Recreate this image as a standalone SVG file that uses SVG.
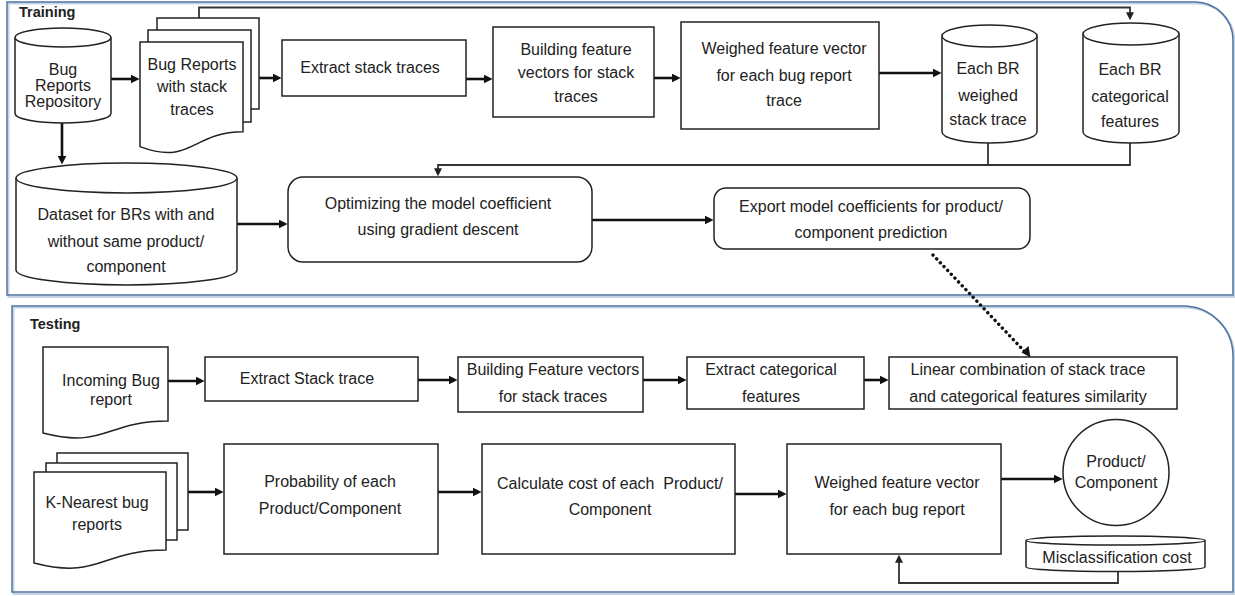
<svg xmlns="http://www.w3.org/2000/svg" width="1235" height="596" viewBox="0 0 1235 596">
<style>
text{font-family:"Liberation Sans",Arial,sans-serif;font-size:16px;fill:#222;text-anchor:middle}
.title{font-weight:bold;font-size:14.5px;text-anchor:start}
.panel{fill:none;stroke:#4d73a3;stroke-width:1.5}
.pshadow{fill:none;stroke:#c6d3e3;stroke-width:2}
.box{fill:#fff;stroke:#222;stroke-width:1.5}
.thick{fill:none;stroke:#111;stroke-width:2.6}
.thin{fill:none;stroke:#333;stroke-width:1.8}
.dots{fill:none;stroke:#111;stroke-width:3.4;stroke-linecap:round;stroke-dasharray:0.1 5.2}
</style>
<defs>
<marker id="arr" viewBox="0 0 10 10" markerWidth="9" markerHeight="9" refX="6" refY="5" orient="auto" markerUnits="userSpaceOnUse"><path d="M0,0 L10,5 L0,10 z" fill="#111"/></marker>
<marker id="arrs" viewBox="0 0 10 10" markerWidth="8" markerHeight="8" refX="6" refY="5" orient="auto" markerUnits="userSpaceOnUse"><path d="M0,0 L10,5 L0,10 z" fill="#222"/></marker>
</defs>
<rect width="1235" height="596" fill="#fff"/>

<g id="training-panel">
<path class="pshadow" d="M8.5,3.5 H1196 A38,38 0 0 1 1234.5,41.5 V297 H8.5 Z"/>
<path class="panel" d="M7,2 H1195 A38,38 0 0 1 1233,40 V295 H7 Z"/>
<text class="title" x="19" y="17">Training</text>
</g>

<g id="testing-panel">
<path class="pshadow" d="M13.5,307.5 H1184 A50,50 0 0 1 1234.5,358 V594 H13.5 Z"/>
<path class="panel" d="M12,306 H1183 A50,50 0 0 1 1233,356 V592 H12 Z"/>
<text class="title" x="30" y="329">Testing</text>
</g>

<g id="connectors">
<path class="thick" d="M111,79 H136" marker-end="url(#arr)"/>
<path class="thick" d="M259,78 H278" marker-end="url(#arr)"/>
<path class="thick" d="M466,79 H489" marker-end="url(#arr)"/>
<path class="thick" d="M654,78 H677" marker-end="url(#arr)"/>
<path class="thick" d="M879,73 H938" marker-end="url(#arr)"/>
<path class="thick" d="M62,123 V161" marker-end="url(#arr)"/>
<path class="thick" d="M237,224 H284" marker-end="url(#arr)"/>
<path class="thick" d="M592,220 H710" marker-end="url(#arr)"/>
<path class="thin" d="M199,18 V7.5 H1130 V17" marker-end="url(#arrs)"/>
<path class="thin" d="M988,143 V165"/>
<path class="thin" d="M1130,143 V165 H438 V173" marker-end="url(#arrs)"/>
<path class="dots" d="M933,255 L1027,354"/>
<path d="M1030.5,357.5 L1021.5,352.5 L1028.5,346 Z" fill="#111"/>
<path class="thick" d="M168,381 H201" marker-end="url(#arr)"/>
<path class="thick" d="M418,380 H454" marker-end="url(#arr)"/>
<path class="thick" d="M643,380 H683" marker-end="url(#arr)"/>
<path class="thick" d="M864,380 H885" marker-end="url(#arr)"/>
<path class="thick" d="M188,492 H220" marker-end="url(#arr)"/>
<path class="thick" d="M438,492 H478" marker-end="url(#arr)"/>
<path class="thick" d="M735,494 H783" marker-end="url(#arr)"/>
<path class="thick" d="M1001,479 H1059" marker-end="url(#arr)"/>
<path class="thin" d="M1118,572 V583 H899 V558" marker-end="url(#arrs)"/>
</g>

<g id="bug-reports-repository">
<path class="box" d="M15,37.5 V113.5 A48,9.5 0 0 0 111,113.5 V37.5"/>
<ellipse class="box" cx="63" cy="37.5" rx="48" ry="9.5"/>
<text x="63" y="75">Bug</text>
<text x="63" y="91">Reports</text>
<text x="63" y="107">Repository</text>
</g>

<g id="bug-reports-with-stack-traces">
<rect class="box" x="157" y="18" width="102" height="91"/>
<rect class="box" x="148" y="30" width="103" height="92"/>
<path class="box" d="M140,42 H243 V131.8 C191.5,131.8 191.5,166 140,146.6 Z"/>
<text x="192" y="70">Bug Reports</text>
<text x="192" y="92">with stack</text>
<text x="192" y="115">traces</text>
</g>

<g id="extract-stack-traces">
<rect class="box" x="282" y="40" width="184" height="56"/>
<text x="370" y="73">Extract stack traces</text>
</g>

<g id="building-feature-vectors">
<rect class="box" x="493" y="27" width="161" height="90"/>
<text x="576" y="55">Building feature</text>
<text x="576" y="78">vectors for stack</text>
<text x="576" y="102">traces</text>
</g>

<g id="weighed-feature-vector-training">
<rect class="box" x="681" y="22" width="198" height="107"/>
<text x="784" y="54">Weighed feature vector</text>
<text x="784" y="81">for each bug report</text>
<text x="784" y="106">trace</text>
</g>

<g id="each-br-weighed-stack-trace">
<path class="box" d="M942,36 V132 A47.5,11 0 0 0 1037,132 V36"/>
<ellipse class="box" cx="989.5" cy="36" rx="47.5" ry="11"/>
<text x="988" y="74">Each BR</text>
<text x="988" y="101">weighed</text>
<text x="988" y="125">stack trace</text>
</g>

<g id="each-br-categorical-features">
<path class="box" d="M1083,34 V132 A48,11 0 0 0 1179,132 V34"/>
<ellipse class="box" cx="1131" cy="34" rx="48" ry="11"/>
<text x="1130" y="75">Each BR</text>
<text x="1130" y="102">categorical</text>
<text x="1130" y="127">features</text>
</g>

<g id="dataset">
<path class="box" d="M16,178 V270 A110.5,15 0 0 0 237,270 V178"/>
<ellipse class="box" cx="126.5" cy="178" rx="110.5" ry="15"/>
<text x="126" y="220">Dataset for BRs with and</text>
<text x="126" y="247">without same product/</text>
<text x="126" y="272">component</text>
</g>

<g id="optimizing">
<rect class="box" x="288" y="177" width="304" height="85" rx="15"/>
<text x="438" y="209">Optimizing the model coefficient</text>
<text x="438" y="235">using gradient descent</text>
</g>

<g id="export-coefficients">
<rect class="box" x="714" y="188" width="316" height="61" rx="12"/>
<text x="871" y="212">Export model coefficients for product/</text>
<text x="871" y="238">component prediction</text>
</g>

<g id="incoming-bug-report">
<path class="box" d="M43,347 H168 V421 C105.5,421 105.5,449 43,433 Z"/>
<text x="111" y="386">Incoming Bug</text>
<text x="111" y="405">report</text>
</g>

<g id="extract-stack-trace-testing">
<rect class="box" x="205" y="357" width="213" height="44"/>
<text x="307" y="384">Extract Stack trace</text>
</g>

<g id="building-feature-vectors-testing">
<rect class="box" x="458" y="357" width="185" height="55"/>
<text x="553" y="375">Building Feature vectors</text>
<text x="553" y="402">for stack traces</text>
</g>

<g id="extract-categorical-features">
<rect class="box" x="687" y="357" width="177" height="52"/>
<text x="771" y="375">Extract categorical</text>
<text x="771" y="402">features</text>
</g>

<g id="linear-combination">
<rect class="box" x="889" y="357" width="288" height="52"/>
<text x="1028" y="375">Linear combination of stack trace</text>
<text x="1028" y="402">and categorical features similarity</text>
</g>

<g id="k-nearest-bug-reports">
<rect class="box" x="57" y="453" width="131" height="77"/>
<rect class="box" x="46" y="463" width="131" height="77"/>
<path class="box" d="M34,472 H166 V550 C100,550 100,580 34,563 Z"/>
<text x="97" y="508">K-Nearest bug</text>
<text x="97" y="530">reports</text>
</g>

<g id="probability">
<rect class="box" x="224" y="444" width="214" height="110"/>
<text x="330" y="487">Probability of each</text>
<text x="330" y="514">Product/Component</text>
</g>

<g id="calculate-cost">
<rect class="box" x="482" y="444" width="253" height="110"/>
<text x="610" y="489" style="white-space:pre">Calculate cost of each  Product/</text>
<text x="610" y="515">Component</text>
</g>

<g id="weighed-feature-vector-testing">
<rect class="box" x="787" y="444" width="214" height="110"/>
<text x="897" y="488">Weighed feature vector</text>
<text x="897" y="515">for each bug report</text>
</g>

<g id="product-component">
<circle class="box" cx="1116" cy="472.5" r="53"/>
<text x="1116" y="467">Product/</text>
<text x="1116" y="488">Component</text>
</g>

<g id="misclassification-cost">
<path class="box" d="M1026,540.5 V567 A89.5,4.5 0 0 0 1205,567 V540.5"/>
<ellipse class="box" cx="1115.5" cy="540.5" rx="89.5" ry="4.5"/>
<text x="1117" y="563">Misclassification cost</text>
</g>
</svg>
